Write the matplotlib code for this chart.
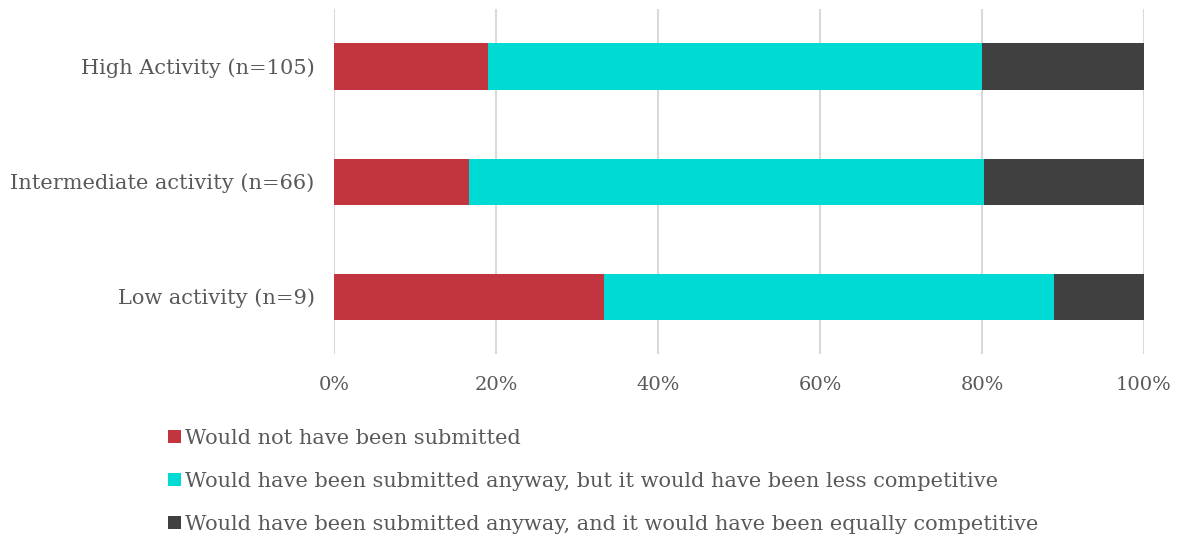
import matplotlib
matplotlib.use("Agg")
import matplotlib.pyplot as plt
import numpy as np

categories = ["Low activity (n=9)", "Intermediate activity (n=66)", "High Activity (n=105)"]
series_names = [
    "Would not have been submitted",
    "Would have been submitted anyway, but it would have been less competitive",
    "Would have been submitted anyway, and it would have been equally competitive",
]
not_submitted = [33.3, 16.7, 19.0]
less_competitive = [55.6, 63.6, 61.0]
equally_competitive = [11.1, 19.7, 20.0]
colors = ["#C3353E", "#00DAD5", "#404040"]
xticks = [0, 20, 40, 60, 80, 100]
xticklabels = ["0%", "20%", "40%", "60%", "80%", "100%"]

plt.rcParams['font.family'] = ['DejaVu Serif']
text_color = "#595959"
fs = 15

fig = plt.figure(figsize=(11.81, 5.38), dpi=100)
ax = fig.add_axes([334/1181, 1 - 354/538, (1144-334)/1181, (354-9)/538])

y = np.arange(len(categories))
left = np.zeros(len(categories))
for vals, name, c in zip([not_submitted, less_competitive, equally_competitive], series_names, colors):
    ax.barh(y, vals, left=left, height=0.4, color=c, label=name, zorder=3)
    left = left + np.array(vals)

ax.set_xlim(0, 100)
ax.set_ylim(-0.5, 2.5)
ax.set_yticks(y)
ax.set_yticklabels(categories, fontsize=fs, color=text_color)
ax.set_xticks(xticks)
ax.set_xticklabels(xticklabels, fontsize=14, color=text_color)
ax.tick_params(axis='both', length=0)
ax.tick_params(axis='y', pad=14)
ax.tick_params(axis='x', pad=16)
for s in ax.spines.values():
    s.set_visible(False)
ax.grid(axis='x', color="#D9D9D9", linewidth=1.5, zorder=0)
ax.set_axisbelow(True)

handles, labels = ax.get_legend_handles_labels()
leg = fig.legend(handles, labels, loc='upper left', bbox_to_anchor=(168/1181, 1 - 429/538),
                 frameon=False, fontsize=fs, handlelength=0.6, handleheight=0.6,
                 handletextpad=0.2, labelspacing=1.15, borderaxespad=0, borderpad=0)
for t in leg.get_texts():
    t.set_color(text_color)

fig.savefig("out.png", dpi=100)
